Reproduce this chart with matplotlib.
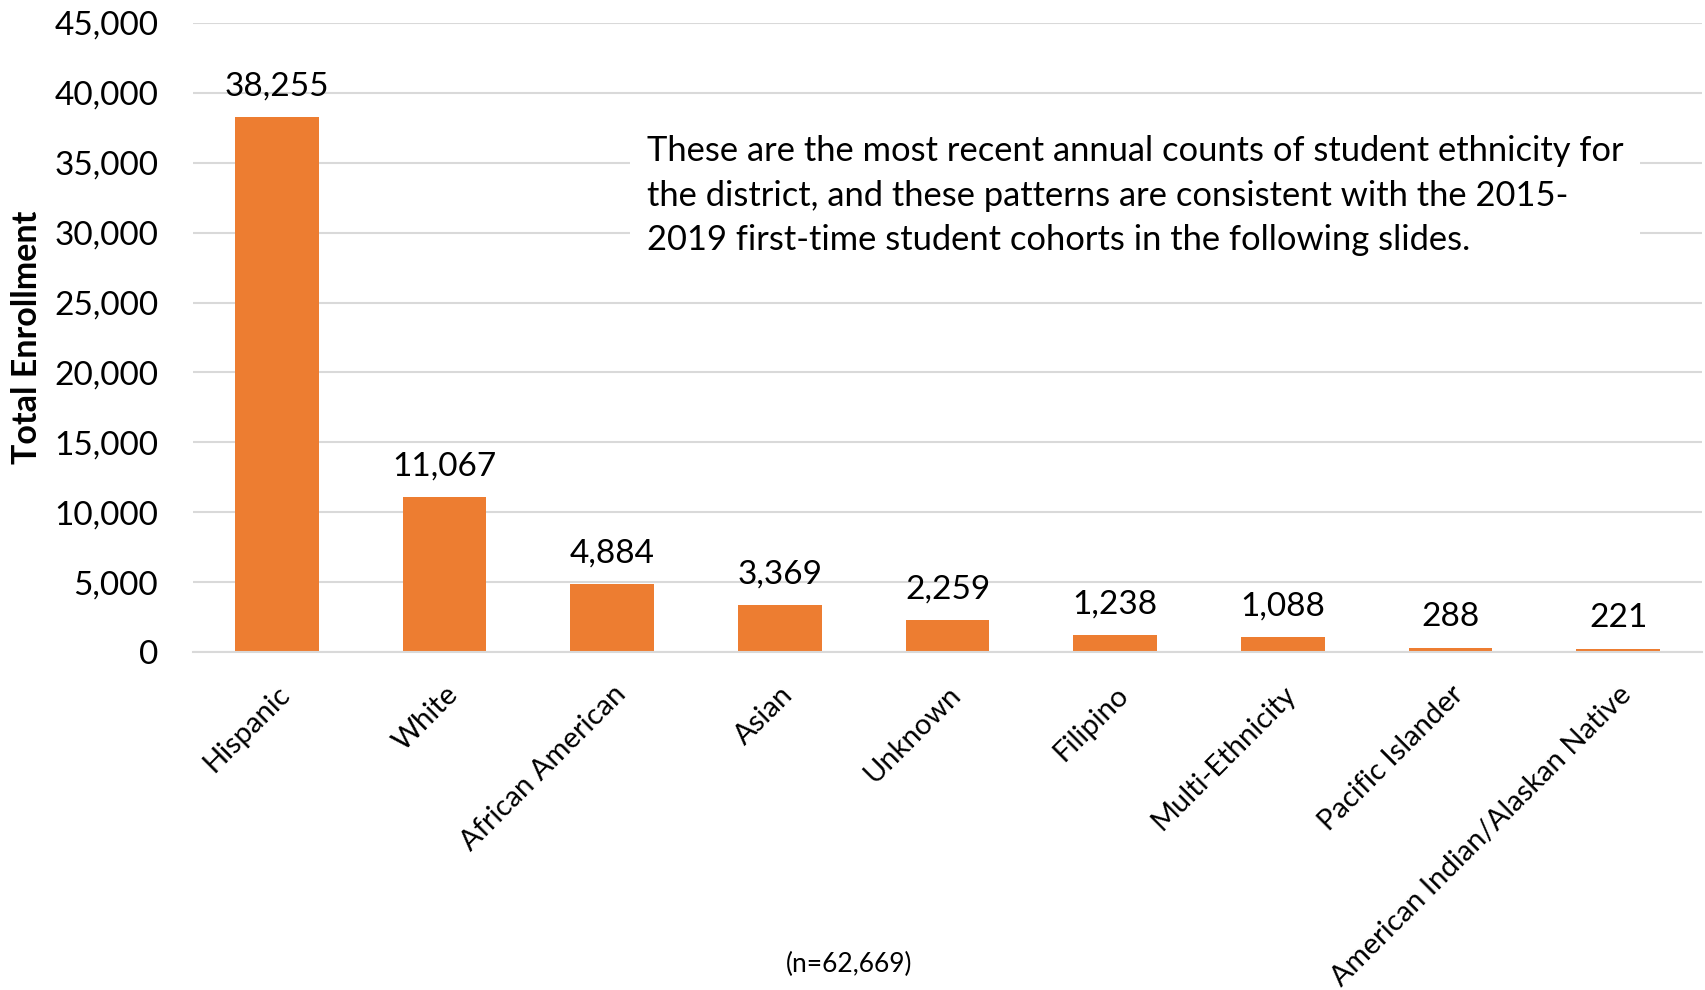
import matplotlib.pyplot as plt
from matplotlib.ticker import FuncFormatter

# ข้อมูลจำนวนนักศึกษาแยกตามเชื้อชาติ
categories = ["Hispanic", "White", "African American", "Asian", "Unknown",
              "Filipino", "Multi-Ethnicity", "Pacific Islander",
              "American Indian/Alaskan Native"]
enrollment = [38255, 11067, 4884, 3369, 2259, 1238, 1088, 288, 221]
total_n = 62669

note = ("These are the most recent annual counts of student ethnicity for\n"
        "the district, and these patterns are consistent with the 2015-\n"
        "2019 first-time student cohorts in the following slides.")

plt.rcParams['font.family'] = ['Lato', 'DejaVu Sans']

fig = plt.figure(figsize=(17.06, 9.9), dpi=100)
ax = fig.add_axes([0.1131, 0.3414, 0.8846, 0.6354])

x = range(len(categories))
bars = ax.bar(x, enrollment, width=0.5, color='#ED7D31', zorder=2)

for xi, v in zip(x, enrollment):
    ax.annotate(f"{v:,}", (xi, v), xytext=(0, 22), textcoords='offset points',
                ha='center', va='center', fontsize=24, color='black')

ax.set_xlim(-0.5, len(categories) - 0.5)
ax.set_ylim(0, 45000)
ax.set_yticks(range(0, 45001, 5000))
ax.yaxis.set_major_formatter(FuncFormatter(lambda v, p: f"{int(v):,}"))
ax.grid(axis='y', color='#D9D9D9', linewidth=1.5, zorder=0)
ax.tick_params(axis='y', length=0, pad=25, labelsize=24)
ax.tick_params(axis='x', length=0, pad=21, labelsize=21)
ax.set_xticks(list(x))
ax.set_xticklabels(categories, rotation=45, ha='right', rotation_mode='anchor')
for s in ['top', 'right', 'left']:
    ax.spines[s].set_visible(False)
ax.spines['bottom'].set_color('#D9D9D9')
ax.spines['bottom'].set_linewidth(1.5)

ax.set_ylabel("Total Enrollment", fontsize=24.5, fontweight='bold', labelpad=8)

# กล่องข้อความอธิบาย
fig.text(0.379, 0.8025, note, fontsize=24.8, va='center', ha='left',
         linespacing=1.47,
         bbox=dict(facecolor='white', edgecolor='none', pad=12))

fig.text(0.4977, 0.026, f"(n={total_n:,})", fontsize=19, ha='center', va='center')

fig.savefig("out.png", dpi=100)
